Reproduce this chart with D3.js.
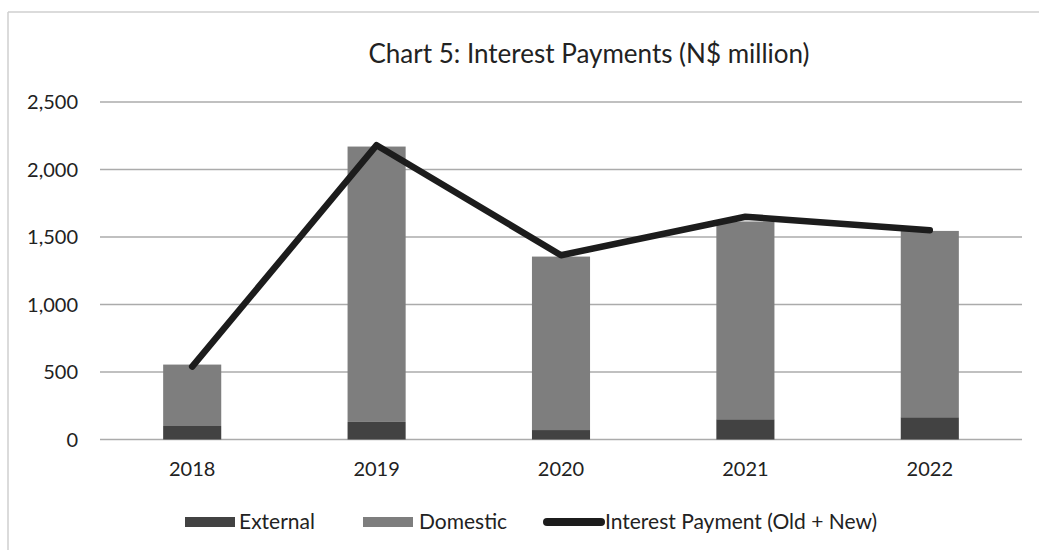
<!DOCTYPE html>
<html>
<head>
<meta charset="utf-8">
<script src="https://cdn.jsdelivr.net/npm/d3@7"></script>
<style>
  html, body { margin: 0; padding: 0; background: #fff; }
  svg { display: block; }
  text { font-family: Lato, "Open Sans", sans-serif; fill: #222; }
</style>
</head>
<body>
<svg id="chart" width="1039" height="550"></svg>
<script>
// Interest payments by year, N$ million
const years = ["2018", "2019", "2020", "2021", "2022"];
const external = [100, 130, 70, 150, 165];
const domestic = [455, 2040, 1285, 1465, 1380];
const interestTotal = [540, 2180, 1365, 1650, 1550];
const yTicks = [0, 500, 1000, 1500, 2000, 2500];
const titleText = "Chart 5: Interest Payments (N$ million)";
const legendLabels = ["External", "Domestic", "Interest Payment (Old + New)"];

const colors = { external: "#424242", domestic: "#7e7e7e", line: "#1c1c1c", grid: "#ababab" };

const svg = d3.select("#chart");

// outer frame (top and left edges)
svg.append("line").attr("x1", 8).attr("x2", 1039).attr("y1", 12).attr("y2", 12)
  .attr("stroke", "#cfcfcf").attr("stroke-width", 1.5);
svg.append("line").attr("x1", 8).attr("x2", 8).attr("y1", 12).attr("y2", 550)
  .attr("stroke", "#cfcfcf").attr("stroke-width", 1.5);

const x = d3.scaleBand().domain(years).range([100, 1022])
  .paddingInner(0.685).paddingOuter(0.3425);
const y = d3.scaleLinear().domain([0, 2500]).range([439.5, 102]);

// gridlines
svg.append("g").selectAll("line").data(yTicks).join("line")
  .attr("x1", 100).attr("x2", 1022)
  .attr("y1", d => y(d)).attr("y2", d => y(d))
  .attr("stroke", colors.grid).attr("stroke-width", 1.6);

// y axis labels
const yAxis = d3.axisLeft(y).tickValues(yTicks).tickFormat(d3.format(",")).tickSize(0).tickPadding(0);
const gy = svg.append("g").attr("transform", "translate(78,0)").call(yAxis);
gy.select(".domain").remove();
gy.selectAll("text").attr("font-size", 20).attr("font-family", "Lato, sans-serif")
  .attr("fill", "#222").attr("dy", "0.34em");

// x axis labels
const xAxis = d3.axisBottom(x).tickSize(0).tickPadding(0);
const gx = svg.append("g").attr("transform", "translate(0,462)").call(xAxis);
gx.select(".domain").remove();
gx.selectAll("text").attr("font-size", 20).attr("font-family", "Lato, sans-serif")
  .attr("fill", "#222").attr("dy", "0.71em");

// stacked bars
const rows = years.map((yr, i) => ({ year: yr, external: external[i], domestic: domestic[i] }));
const stack = d3.stack().keys(["external", "domestic"])(rows);
svg.append("g").selectAll("g").data(stack).join("g")
  .attr("fill", d => colors[d.key])
  .selectAll("rect").data(d => d).join("rect")
  .attr("x", d => x(d.data.year))
  .attr("width", x.bandwidth())
  .attr("y", d => y(d[1]))
  .attr("height", d => y(d[0]) - y(d[1]));

// total interest line
const line = d3.line()
  .x((d, i) => x(years[i]) + x.bandwidth() / 2)
  .y(d => y(d));
svg.append("path").datum(interestTotal)
  .attr("d", line)
  .attr("fill", "none")
  .attr("stroke", colors.line)
  .attr("stroke-width", 6.5)
  .attr("stroke-linejoin", "round")
  .attr("stroke-linecap", "round");

// title
svg.append("text").attr("x", 589).attr("y", 63).attr("text-anchor", "middle")
  .attr("font-size", 26).text(titleText);

// legend
const lg = svg.append("g");
lg.append("rect").attr("x", 185).attr("y", 517).attr("width", 50).attr("height", 10).attr("fill", colors.external);
lg.append("text").attr("x", 239).attr("y", 528.5).attr("font-size", 21).text(legendLabels[0]);
lg.append("rect").attr("x", 363).attr("y", 517).attr("width", 50).attr("height", 10).attr("fill", colors.domestic);
lg.append("text").attr("x", 419).attr("y", 528.5).attr("font-size", 21).text(legendLabels[1]);
lg.append("line").attr("x1", 547).attr("x2", 601).attr("y1", 522).attr("y2", 522)
  .attr("stroke", colors.line).attr("stroke-width", 8).attr("stroke-linecap", "round");
lg.append("text").attr("x", 605).attr("y", 528.5).attr("font-size", 21).text(legendLabels[2]);
</script>
</body>
</html>
